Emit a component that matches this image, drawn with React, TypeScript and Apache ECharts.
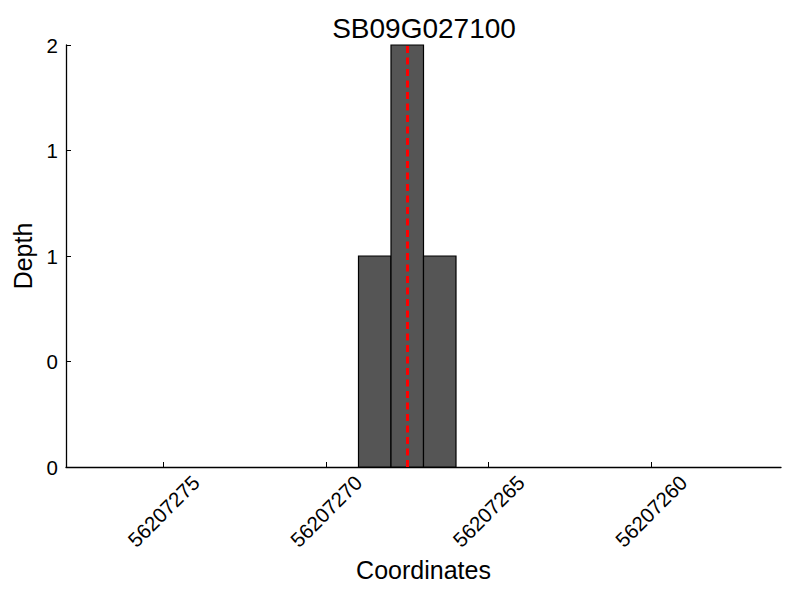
import React, { useEffect, useRef } from "react";
import * as echarts from "echarts";

const title = "SB09G027100";
const xName = "Coordinates";
const yName = "Depth";
const xMin = 56207256;
const xMax = 56207278;
const xTicks = [56207260, 56207265, 56207270, 56207275];
const yTicks = [0, 0.5, 1, 1.5, 2];
const binStarts = [56207269, 56207268, 56207267];
const binEnds = [56207268, 56207267, 56207266];
const depths = [1, 2, 1];
const markerPos = 56207267.5;

const FONT = "Liberation Sans, Arial, sans-serif";

export default function App() {
  const ref = useRef<HTMLDivElement>(null);
  useEffect(() => {
    if (!ref.current) return;
    const chart = echarts.init(ref.current, null, { renderer: "svg" });
    const data = binStarts.map((s, i) => [s, binEnds[i], depths[i]]);
    chart.setOption({
      animation: false,
      backgroundColor: "#ffffff",
      textStyle: { fontFamily: FONT },
      title: {
        text: title,
        left: 419,
        top: 9,
        textAlign: "center",
        textStyle: { fontFamily: FONT, fontSize: 28, fontWeight: "normal", color: "#000" },
      },
      grid: { left: 66, right: 19, top: 45, bottom: 133, containLabel: false },
      xAxis: {
        type: "value",
        inverse: true,
        min: xMin,
        max: xMax,
        name: xName,
        nameLocation: "middle",
        nameGap: 100,
        nameTextStyle: { fontFamily: FONT, fontSize: 25, color: "#000", verticalAlign: "middle" },
        axisLine: { show: true, onZero: false, lineStyle: { color: "#000", width: 1.3 } },
        axisTick: { show: true, inside: true, length: 5, customValues: xTicks, lineStyle: { color: "#000", width: 1 } },
        axisLabel: {
          customValues: xTicks,
          rotate: 45,
          align: "center",
          verticalAlign: "middle",
          margin: 44,
          fontFamily: FONT,
          fontSize: 20.5,
          color: "#000",
          formatter: (v: number) => String(Math.round(v)),
        },
        splitLine: { show: false },
      },
      yAxis: {
        type: "value",
        min: 0,
        max: 2,
        interval: 0.5,
        name: yName,
        nameLocation: "middle",
        nameGap: 41,
        nameRotate: 90,
        nameTextStyle: { fontFamily: FONT, fontSize: 25, color: "#000", verticalAlign: "middle" },
        axisLine: { show: true, lineStyle: { color: "#000", width: 1.3 } },
        axisTick: { show: true, inside: true, length: 5, lineStyle: { color: "#000", width: 1 } },
        axisLabel: {
          margin: 8,
          fontFamily: FONT,
          fontSize: 20.5,
          color: "#000",
          formatter: (v: number) => String(Math.floor(v)),
          customValues: yTicks,
        },
        splitLine: { show: false },
      },
      series: [
        {
          type: "custom",
          data,
          encode: { x: [0, 1], y: 2 },
          renderItem: (params: any, api: any) => {
            const p0 = api.coord([api.value(0), api.value(2)]);
            const p1 = api.coord([api.value(1), 0]);
            const x = Math.min(p0[0], p1[0]);
            const w = Math.abs(p1[0] - p0[0]);
            return {
              type: "rect",
              shape: { x, y: p0[1], width: w, height: p1[1] - p0[1] },
              style: { fill: "#555555", stroke: "#000", lineWidth: 1.2 },
            };
          },
          markLine: {
            silent: true,
            symbol: ["none", "none"],
            label: { show: false },
            lineStyle: { color: "#ff0000", width: 3, type: [7, 4.5] },
            data: [{ xAxis: markerPos }],
          },
          z: 2,
        },
      ],
    });
    return () => chart.dispose();
  }, []);
  return <div ref={ref} style={{ width: 800, height: 600, position: "absolute", left: 0, top: 0 }} />;
}
